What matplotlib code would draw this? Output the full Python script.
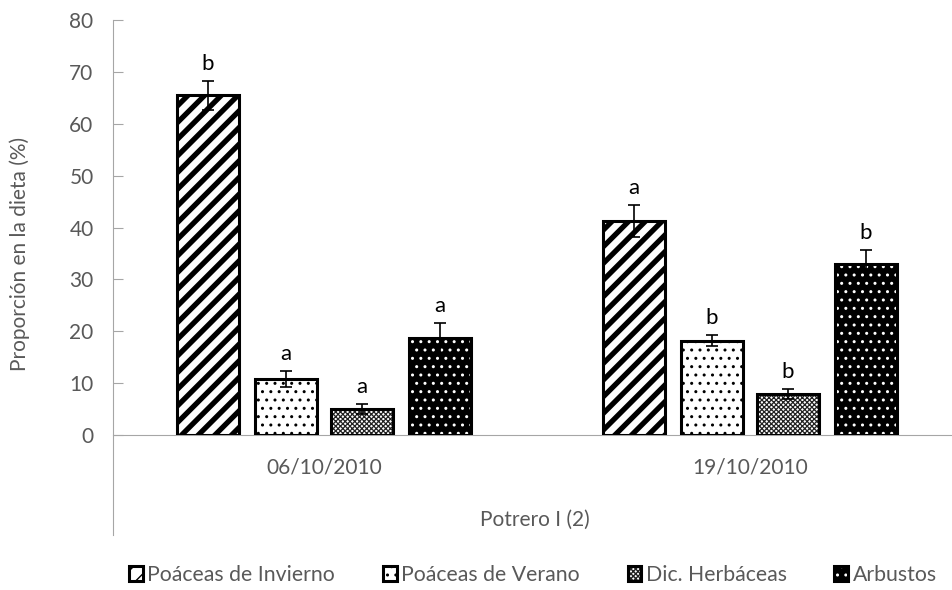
import matplotlib.pyplot as plt
from matplotlib.legend_handler import HandlerTuple
import numpy as np

plt.rcParams['font.family'] = ['Lato', 'DejaVu Sans']

fechas = ['06/10/2010', '19/10/2010']
grupos = ['Poáceas de Invierno', 'Poáceas de Verano', 'Dic. Herbáceas', 'Arbustos']
valores = [[65.5, 41.2],
           [10.8, 18.2],
           [5.0, 7.9],
           [18.7, 33.0]]
errores = [[2.8, 3.1],
           [1.5, 1.1],
           [1.0, 1.0],
           [2.9, 2.7]]
letras = [['b', 'a'],
          ['a', 'b'],
          ['a', 'b'],
          ['a', 'b']]

gris = '#595959'
W, H = 952, 590
fig = plt.figure(figsize=(W / 100, H / 100), dpi=100)
# ejes en pixeles: izq 113, der 952, y=0 en 435, y=80 en 20
ax = fig.add_axes([113 / W, (H - 435) / H, (952 - 113) / W, (435 - 20) / H])

x = np.arange(len(fechas))
px = 426.0  # px por categoria
ax.set_xlim((113 - 324) / px, (952 - 324) / px)
ax.set_ylim(0, 80)

ancho = 62 / px
offs = np.array([-116, -38, 38, 116]) / px

estilos = [
    dict(face='white', hatch='//', hcol='black', lw=3.8),
    dict(face='white', hatch='..', hcol='black', lw=1.0),
    dict(face='white', hatch='xxxxxxx', hcol='#222222', lw=0.9),
    dict(face='black', hatch='..', hcol='white', lw=1.0),
]

handles = []
for i, st in enumerate(estilos):
    with plt.rc_context({'hatch.linewidth': st['lw']}):
        b1 = ax.bar(x + offs[i], valores[i], ancho, color=st['face'],
                    edgecolor=st['hcol'], hatch=st['hatch'], linewidth=0, zorder=2)
    b2 = ax.bar(x + offs[i], valores[i], ancho, fill=False, edgecolor='black',
                linewidth=2.2, zorder=3)
    ax.errorbar(x + offs[i], valores[i], yerr=errores[i], fmt='none', ecolor='black',
                elinewidth=1.2, capsize=4.5, capthick=1.2, zorder=4)
    for j in range(len(fechas)):
        ax.annotate(letras[i][j], (x[j] + offs[i], valores[i][j] + errores[i][j]),
                    xytext=(0, 5), textcoords='offset points', ha='center', va='bottom',
                    fontsize=16, color='black')
    handles.append((b1[0], b2[0]))

ax.spines['top'].set_visible(False)
ax.spines['right'].set_visible(False)
ax.spines['left'].set_color('#a6a6a6')
ax.spines['bottom'].set_color('#a6a6a6')
ax.spines['left'].set_bounds(-19.3, 80)

ax.set_yticks(np.arange(0, 81, 10))
ax.tick_params(axis='y', direction='in', length=7, color='#a6a6a6', labelcolor=gris,
               labelsize=15, pad=14)
ax.set_xticks([])

for j, f in enumerate(fechas):
    fig.text((324 + j * px) / W, 1 - 468 / H, f, ha='center', va='center',
             fontsize=15, color=gris)
fig.text(535 / W, 1 - 520 / H, 'Potrero I (2)', ha='center', va='center',
         fontsize=15, color=gris)
fig.text(20 / W, 1 - 254 / H, 'Proporción en la dieta (%)', ha='center', va='center',
         rotation=90, fontsize=15, color=gris)

fig.legend(handles, grupos, loc='center', bbox_to_anchor=(533 / W, 1 - 575 / H),
           ncol=4, frameon=False, fontsize=15.3, labelcolor=gris,
           handler_map={tuple: HandlerTuple(ndivide=1, pad=0)},
           handlelength=0.65, handleheight=0.65, handletextpad=0.2, columnspacing=2.25)

fig.savefig('out.png', dpi=100)
